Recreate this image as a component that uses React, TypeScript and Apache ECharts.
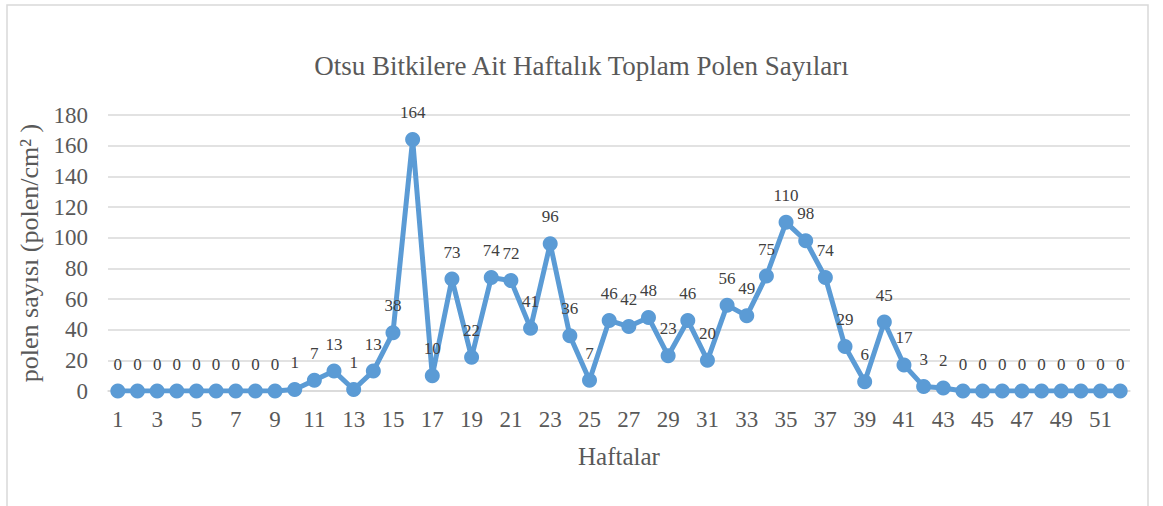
import React, { useEffect, useRef } from "react";
import * as echarts from "echarts";

const weeks: string[] = Array.from({ length: 52 }, (_, i) => String(i + 1));
const pollen: number[] = [
  0, 0, 0, 0, 0, 0, 0, 0, 0, 1, 7, 13, 1, 13, 38, 164, 10, 73, 22, 74, 72, 41, 96, 36, 7, 46,
  42, 48, 23, 46, 20, 56, 49, 75, 110, 98, 74, 29, 6, 45, 17, 3, 2, 0, 0, 0, 0, 0, 0, 0, 0, 0,
];
const titleText = "Otsu Bitkilere Ait Haftalık Toplam Polen Sayıları";
const yName = "polen sayısı (polen/cm² )";
const xName = "Haftalar";

const FONT = "'Liberation Serif', 'Times New Roman', serif";

export default function App() {
  const ref = useRef<HTMLDivElement>(null);
  useEffect(() => {
    if (!ref.current) return;
    const chart = echarts.init(ref.current, null, { renderer: "svg" });
    chart.setOption({
      animation: false,
      backgroundColor: "#ffffff",
      title: {
        text: titleText,
        left: "center",
        top: 47,
        textStyle: { fontFamily: FONT, fontSize: 27, fontWeight: "normal", color: "#595959" },
      },
      graphic: [
        {
          type: "rect",
          shape: { x: 7, y: 5, width: 1141, height: 520 },
          style: { fill: "none", stroke: "#d9d9d9", lineWidth: 1.5 },
          silent: true,
        },
      ],
      grid: { left: 108, right: 33, top: 115, bottom: 115 },
      xAxis: {
        type: "category",
        data: weeks,
        boundaryGap: true,
        name: xName,
        nameLocation: "middle",
        nameGap: 53,
        nameTextStyle: { fontFamily: FONT, fontSize: 25, color: "#595959" },
        axisLine: { show: true, lineStyle: { color: "#d9d9d9", width: 1.5 } },
        axisTick: { show: false },
        axisLabel: { interval: 1, fontFamily: FONT, fontSize: 23, color: "#595959", margin: 17 },
      },
      yAxis: {
        type: "value",
        min: 0,
        max: 180,
        interval: 20,
        name: yName,
        nameLocation: "middle",
        nameGap: 63,
        nameTextStyle: { fontFamily: FONT, fontSize: 26, color: "#595959" },
        axisLine: { show: false },
        axisTick: { show: false },
        axisLabel: { fontFamily: FONT, fontSize: 23, color: "#595959", margin: 20 },
        splitLine: { lineStyle: { color: "#d9d9d9", width: 1.5 } },
      },
      series: [
        {
          type: "line",
          data: pollen,
          symbol: "circle",
          symbolSize: 15,
          showAllSymbol: true,
          lineStyle: { color: "#5b9bd5", width: 5 },
          itemStyle: { color: "#5b9bd5" },
          label: {
            show: true,
            position: "top",
            distance: 11,
            fontFamily: FONT,
            fontSize: 17,
            color: "#404040",
          },
        },
      ],
    });
    return () => chart.dispose();
  }, []);
  return (
    <div
      ref={ref}
      style={{ position: "absolute", left: 0, top: 0, width: 1163, height: 506 }}
    />
  );
}
